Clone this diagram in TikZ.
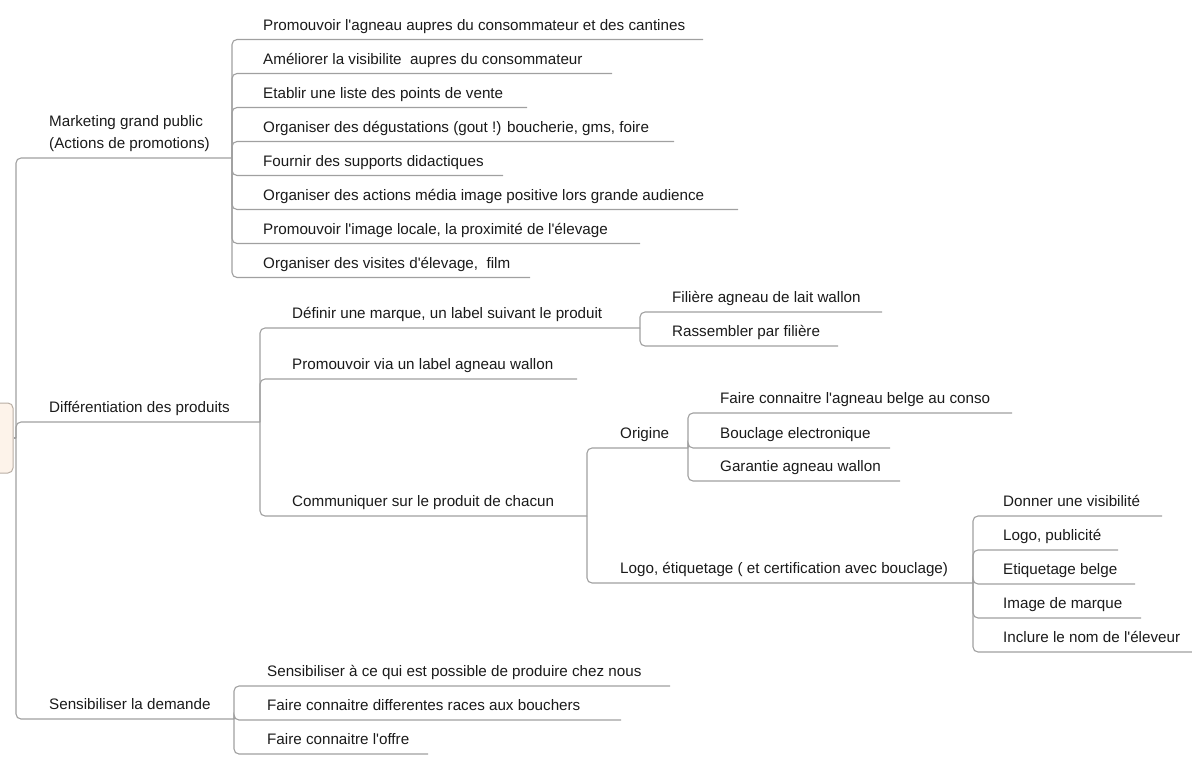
\documentclass[tikz,border=0pt]{standalone}
\usepackage{fontspec}
\setmainfont{Liberation Sans}[Ligatures=TeXOff]
\definecolor{linegray}{HTML}{A0A0A0}
\definecolor{txt}{HTML}{1A1A1A}
\definecolor{rootfill}{HTML}{FDF3EA}
\definecolor{rootdraw}{HTML}{B9AEA4}
\begin{document}
\begin{tikzpicture}[x=1pt,y=-1pt,
  topic/.style={anchor=base west,inner sep=0pt,text=txt,font=\fontsize{15.2}{22}\selectfont},
  conn/.style={draw=linegray,line width=1.1pt,rounded corners=5pt},
  rootbox/.style={draw=rootdraw,fill=rootfill,line width=1pt,rounded corners=5pt}]
\useasboundingbox (0,0) rectangle (1192,764);
% root (cut by left edge)
\node[rootbox,minimum width=30pt,minimum height=70pt,inner sep=0pt] (root) at (-2,438) {};
\coordinate (root-j) at (16,438);
\draw[conn] (root.east) -- (root-j);
% level 1
\node[topic,align=left] (m1) at (49,148) {Marketing grand public\\(Actions de promotions)};
\coordinate (m1-e) at (232,158);
\node[topic] (m2) at (49,412) {Différentiation des produits};
\coordinate (m2-e) at (260,422);
\node[topic] (m3) at (49,709) {Sensibiliser la demande};
\coordinate (m3-e) at (234,719);
\foreach \c in {m1,m2,m3} \draw[conn] (root-j) |- (\c-e);
% marketing children
\node[topic] (a1) at (263,30) {Promouvoir l'agneau aupres du consommateur et des cantines};
\coordinate (a1-e) at (703,39.5);
\node[topic] (a2) at (263,64) {Améliorer la visibilite\ \ aupres du consommateur};
\coordinate (a2-e) at (612,73.5);
\node[topic] (a3) at (263,98) {Etablir une liste des points de vente};
\coordinate (a3-e) at (527,107.5);
\node[topic] (a4) at (263,132) {Organiser des dégustations (gout !) boucherie, gms, foire};
\coordinate (a4-e) at (674,141.5);
\node[topic] (a5) at (263,166) {Fournir des supports didactiques};
\coordinate (a5-e) at (503,175.5);
\node[topic] (a6) at (263,200) {Organiser des actions média image positive lors grande audience};
\coordinate (a6-e) at (738,209.5);
\node[topic] (a7) at (263,234) {Promouvoir l'image locale, la proximité de l'élevage};
\coordinate (a7-e) at (640,243.5);
\node[topic] (a8) at (263,268) {Organiser des visites d'élevage,\ \ film};
\coordinate (a8-e) at (530,277.5);
\foreach \c in {a1,a2,a3,a4,a5,a6,a7,a8} \draw[conn] (m1-e) |- (\c-e);
% differentiation children
\node[topic] (d1) at (292,318.5) {Définir une marque, un label suivant le produit};
\coordinate (d1-e) at (640,328);
\node[topic] (d2) at (292,369.5) {Promouvoir via un label agneau wallon};
\coordinate (d2-e) at (577,379);
\node[topic] (d3) at (292,506.5) {Communiquer sur le produit de chacun};
\coordinate (d3-e) at (587,516);
\foreach \c in {d1,d2,d3} \draw[conn] (m2-e) |- (\c-e);
% d1 children
\node[topic] (f1) at (672,302.5) {Filière agneau de lait wallon};
\coordinate (f1-e) at (882,312);
\node[topic] (f2) at (672,336.5) {Rassembler par filière};
\coordinate (f2-e) at (838,346);
\foreach \c in {f1,f2} \draw[conn] (d1-e) |- (\c-e);
% d3 children
\node[topic] (o) at (620,438.5) {Origine};
\coordinate (o-e) at (688,448);
\node[topic] (l) at (620,573.5) {Logo, étiquetage ( et certification avec bouclage)};
\coordinate (l-e) at (973,583);
\foreach \c in {o,l} \draw[conn] (d3-e) |- (\c-e);
% origine children
\node[topic] (o1) at (720,403.5) {Faire connaitre l'agneau belge au conso};
\coordinate (o1-e) at (1012,413);
\node[topic] (o2) at (720,438.5) {Bouclage electronique};
\coordinate (o2-e) at (890,448);
\node[topic] (o3) at (720,471.5) {Garantie agneau wallon};
\coordinate (o3-e) at (900,481);
\foreach \c in {o1,o2,o3} \draw[conn] (o-e) |- (\c-e);
% logo children
\node[topic] (l1) at (1003,506.5) {Donner une visibilité};
\coordinate (l1-e) at (1162,516);
\node[topic] (l2) at (1003,540.5) {Logo, publicité};
\coordinate (l2-e) at (1118,550);
\node[topic] (l3) at (1003,574.5) {Etiquetage belge};
\coordinate (l3-e) at (1135,584);
\node[topic] (l4) at (1003,608.5) {Image de marque};
\coordinate (l4-e) at (1141,618);
\node[topic] (l5) at (1003,642.5) {Inclure le nom de l'éleveur};
\coordinate (l5-e) at (1192,652);
\foreach \c in {l1,l2,l3,l4,l5} \draw[conn] (l-e) |- (\c-e);
% sensibiliser children
\node[topic] (s1) at (267,676.5) {Sensibiliser à ce qui est possible de produire chez nous};
\coordinate (s1-e) at (670,686);
\node[topic] (s2) at (267,710.5) {Faire connaitre differentes races aux bouchers};
\coordinate (s2-e) at (621,720);
\node[topic] (s3) at (267,744.5) {Faire connaitre l'offre};
\coordinate (s3-e) at (428,754);
\foreach \c in {s1,s2,s3} \draw[conn] (m3-e) |- (\c-e);
\end{tikzpicture}
\end{document}
